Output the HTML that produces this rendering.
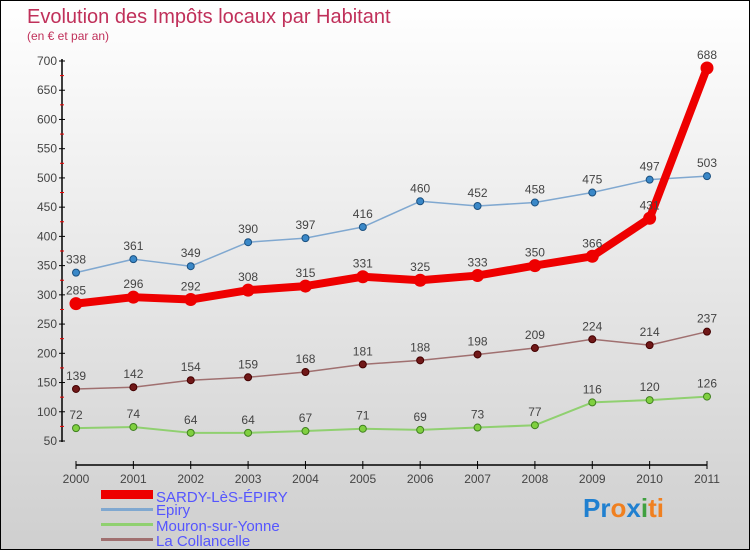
<!DOCTYPE html>
<html><head><meta charset="utf-8"><style>
body{margin:0}
#c{width:750px;height:550px;position:relative;box-sizing:border-box;border:1px solid #000;background:linear-gradient(#fff,#cfcfcf);font-family:"Liberation Sans",sans-serif;overflow:hidden}
text{font-family:"Liberation Sans",sans-serif}
</style></head><body>
<div id="c">
<svg id="s" width="750" height="550">
<text x="26" y="22" font-size="20" fill="#c0305a">Evolution des Impôts locaux par Habitant</text>
<text x="26" y="39" font-size="12" fill="#c0305a">(en € et par an)</text>
<g id="g"></g>
<g>
<rect x="100" y="489" width="52" height="9" fill="#e00"/>
<text x="155" y="501" font-size="15" fill="#5555ff">SARDY-LèS-ÉPIRY</text>
<rect x="100" y="507" width="52" height="3" fill="#80a8d0"/>
<text x="155" y="514" font-size="15" fill="#5555ff">Epiry</text>
<rect x="100" y="522" width="52" height="3" fill="#90d070"/>
<text x="155" y="530" font-size="15" fill="#5555ff">Mouron-sur-Yonne</text>
<rect x="100" y="537" width="52" height="3" fill="#a07070"/>
<text x="155" y="545" font-size="15" fill="#5555ff">La Collancelle</text>
</g>
<text x="582" y="516" font-size="26" font-weight="bold"><tspan fill="#2080d0">Pr</tspan><tspan fill="#f08020">o</tspan><tspan fill="#2080d0">x</tspan><tspan fill="#40a040">i</tspan><tspan fill="#f08020">ti</tspan></text>
</svg>
</div>
<script>
const years=[2000,2001,2002,2003,2004,2005,2006,2007,2008,2009,2010,2011];
const sardy=[285,296,292,308,315,331,325,333,350,366,431,688];
const epiry=[338,361,349,390,397,416,460,452,458,475,497,503];
const mouron=[72,74,64,64,67,71,69,73,77,116,120,126];
const collancelle=[139,142,154,159,168,181,188,198,209,224,214,237];
const yTicks=[50,100,150,200,250,300,350,400,450,500,550,600,650,700];
const NS='http://www.w3.org/2000/svg';
const g=document.getElementById('g');
const X=i=>75+i*(706-75)/11;
const Y=v=>440-(v-50)*380/650;
function el(t,a,p){const e=document.createElementNS(NS,t);for(const k in a)e.setAttribute(k,a[k]);(p||g).appendChild(e);return e;}
let ax=el('line',{x1:61,y1:58,x2:61,y2:441,stroke:'#000','stroke-width':1.5});

let xa=el('line',{x1:75,y1:464,x2:706,y2:464,stroke:'#000','stroke-width':1.5});

yTicks.forEach(v=>{
 el('line',{x1:58,y1:Y(v),x2:64,y2:Y(v),stroke:'#000'});
 if(v<700)el('line',{x1:59,y1:Y(v+25),x2:63,y2:Y(v+25),stroke:'#e00'});
 const t=el('text',{x:56,y:Y(v)+4,'font-size':12,fill:'#444','text-anchor':'end'});t.textContent=v;
 
});
years.forEach((y,i)=>{
 el('line',{x1:X(i),y1:460,x2:X(i),y2:468,stroke:'#000'});
 const t=el('text',{x:X(i),y:482,'font-size':12,fill:'#444','text-anchor':'middle'});t.textContent=y;
 
});
function series(d,name,color,w,r,dot,dotStroke){
 const p=el('polyline',{points:d.map((v,i)=>X(i)+','+Y(v)).join(' '),fill:'none',stroke:color,'stroke-width':w,'stroke-linejoin':'round'});
 
 d.forEach((v,i)=>{
  const c=el('circle',{cx:X(i),cy:Y(v),r:r,fill:dot,stroke:dotStroke,'stroke-width':1});
  
  const t=el('text',{x:X(i),y:Y(v)-9,'font-size':12,fill:'#444','text-anchor':'middle'});t.textContent=v;
  
 });
}
series(epiry,'epiry','#80a8d0',1.5,3.5,'#3a88c8','#1a5080');
series(collancelle,'collancelle','#a07070',1.5,3.5,'#701818','#400');
series(mouron,'mouron','#90d070',2,3.5,'#80d040','#408020');
series(sardy,'sardy','#e00',8,6,'#e00','#e00');
</script>
</body></html>
